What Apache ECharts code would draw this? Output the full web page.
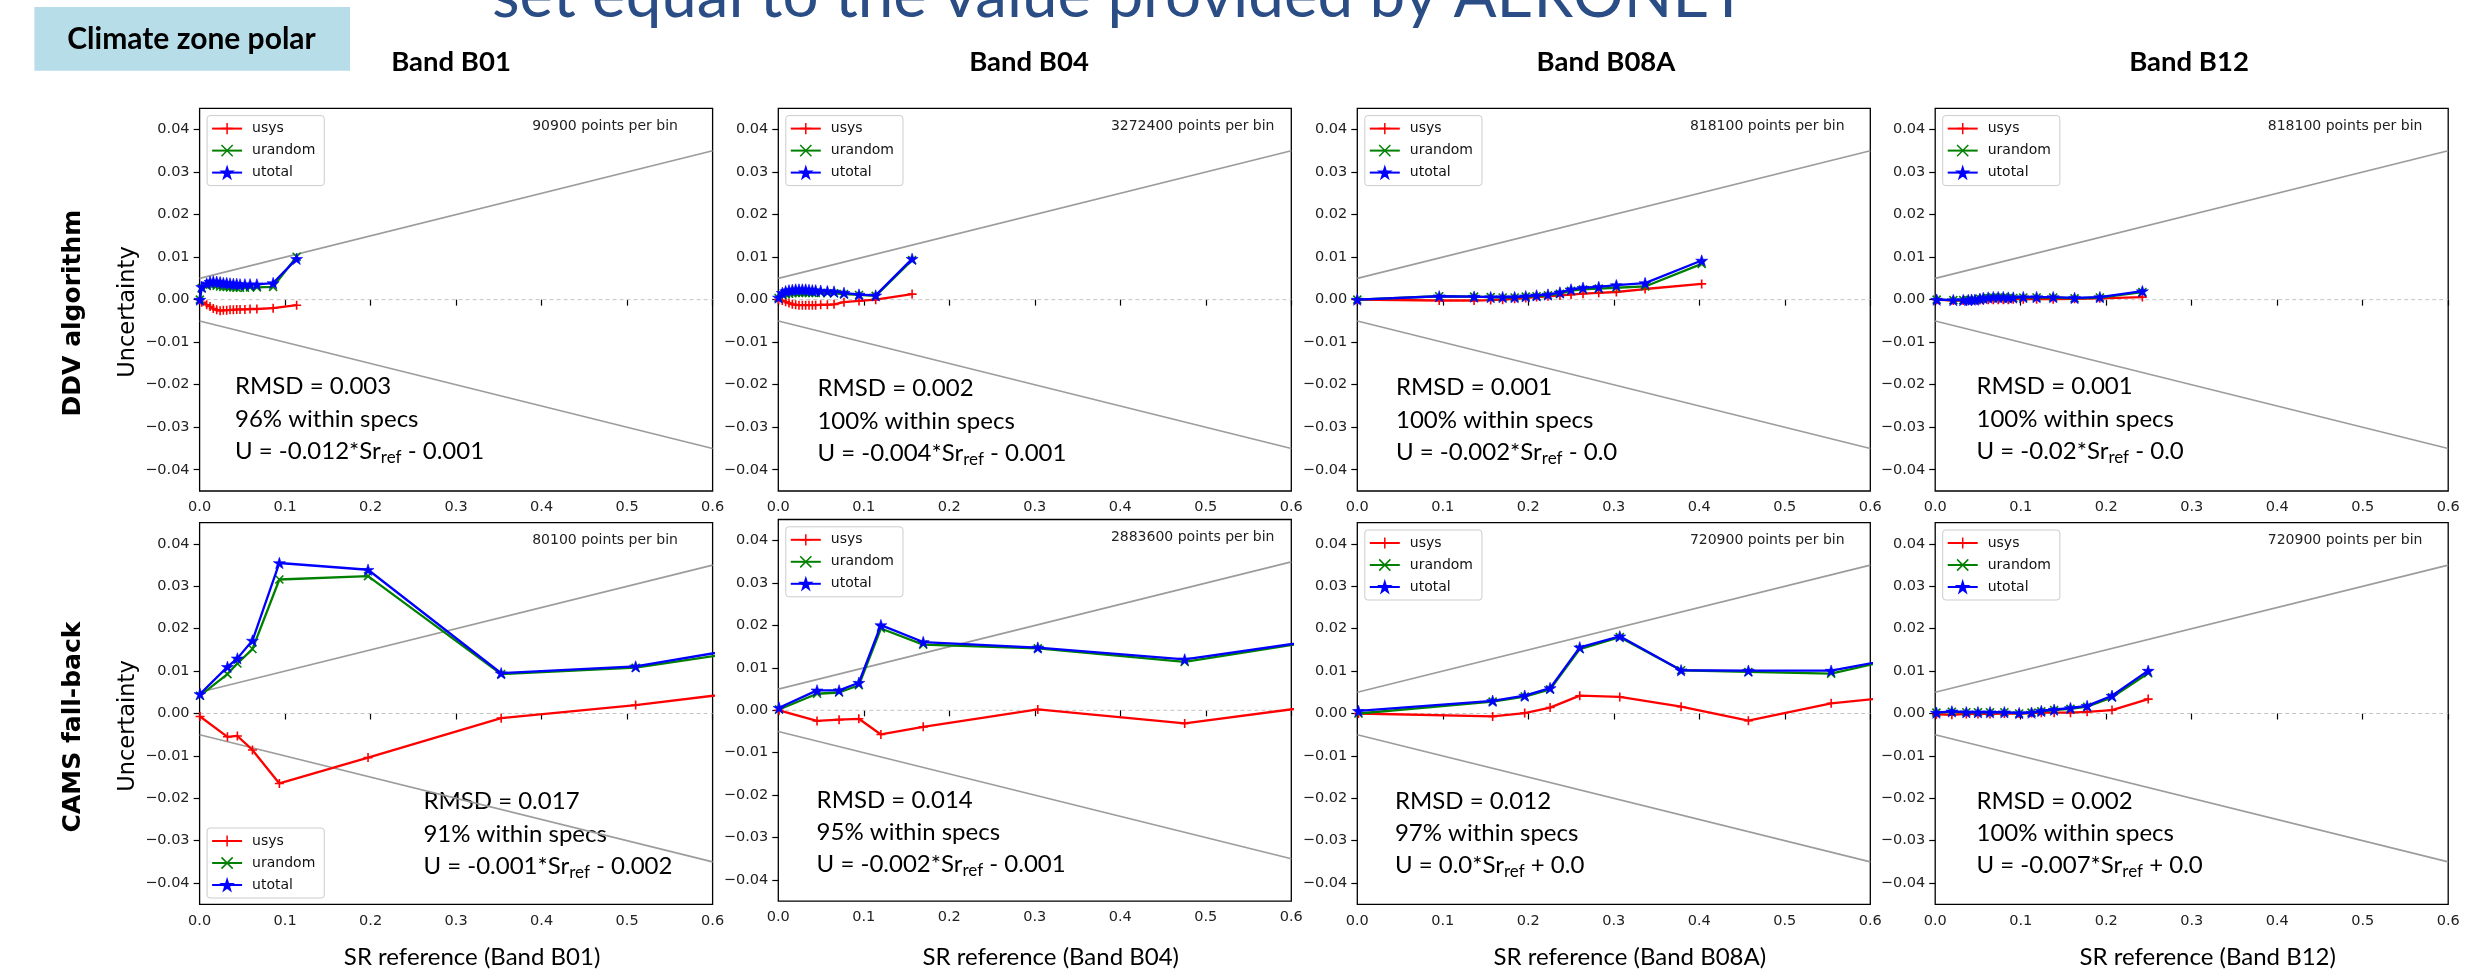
<!DOCTYPE html>
<html><head><meta charset="utf-8">
<script src="https://cdn.jsdelivr.net/npm/echarts@6/dist/echarts.min.js"></script>
<style>html,body{margin:0;padding:0;background:#fff}#c{width:2490px;height:970px}</style>
</head><body><div id="c"></div>
<script>
// ================= DATA =================
const bands = ['B01', 'B04', 'B08A', 'B12'];
const rowNames = ['DDV algorithm', 'CAMS fall-back'];
const seriesNames = ['usys', 'urandom', 'utotal'];
const xTicks = [0, 0.1, 0.2, 0.3, 0.4, 0.5, 0.6];
const yTicks = [-0.04, -0.03, -0.02, -0.01, 0, 0.01, 0.02, 0.03, 0.04];
const specX = [0, 0.6];
const specUpper = [0.005, 0.035];
const specLower = [-0.005, -0.035];
const zeroLine = [0, 0];

// DDV algorithm row
const ddvB01X = [0.0003, 0.0025, 0.0083, 0.0122, 0.0160, 0.0200, 0.0240, 0.0278, 0.0317, 0.0356, 0.0395, 0.0434, 0.0473, 0.0530, 0.0590, 0.0670, 0.0860, 0.1135];
const ddvB01Usys = [0.0000, -0.0006, -0.0012, -0.0016, -0.0021, -0.0024, -0.0026, -0.0025, -0.0025, -0.0024, -0.0024, -0.0023, -0.0023, -0.0023, -0.0022, -0.0022, -0.0020, -0.0013];
const ddvB01Urandom = [0.0000, 0.0027, 0.0032, 0.0035, 0.0035, 0.0033, 0.0031, 0.0030, 0.0030, 0.0029, 0.0029, 0.0028, 0.0028, 0.0028, 0.0029, 0.0029, 0.0030, 0.0101];
const ddvB01Utotal = [0.0000, 0.0030, 0.0038, 0.0042, 0.0043, 0.0042, 0.0041, 0.0039, 0.0039, 0.0038, 0.0037, 0.0037, 0.0036, 0.0036, 0.0036, 0.0036, 0.0039, 0.0096];

const ddvB04X = [0.0003, 0.0047, 0.0086, 0.0125, 0.0164, 0.0203, 0.0242, 0.0281, 0.0320, 0.0359, 0.0398, 0.0437, 0.0496, 0.0574, 0.0652, 0.0768, 0.0944, 0.1139, 0.1565];
const ddvB04Usys = [0.0000, -0.0002, -0.0005, -0.0008, -0.0011, -0.0012, -0.0013, -0.0013, -0.0013, -0.0013, -0.0013, -0.0013, -0.0012, -0.0012, -0.0011, -0.0006, -0.0003, 0.0000, 0.0013];
const ddvB04Urandom = [0.0004, 0.0011, 0.0013, 0.0014, 0.0015, 0.0016, 0.0016, 0.0016, 0.0016, 0.0016, 0.0016, 0.0016, 0.0016, 0.0015, 0.0015, 0.0013, 0.0011, 0.0009, 0.0093];
const ddvB04Utotal = [0.0005, 0.0016, 0.0020, 0.0022, 0.0023, 0.0024, 0.0024, 0.0024, 0.0024, 0.0023, 0.0022, 0.0022, 0.0021, 0.0020, 0.0019, 0.0016, 0.0012, 0.0010, 0.0096];

const ddvB08AX = [0.0000, 0.0958, 0.1366, 0.1560, 0.1700, 0.1840, 0.1970, 0.2097, 0.2230, 0.2370, 0.2500, 0.2640, 0.2824, 0.3030, 0.3366, 0.4028];
const ddvB08AUsys = [0.0000, -0.0002, -0.0002, -0.0001, 0.0000, 0.0002, 0.0004, 0.0006, 0.0008, 0.0010, 0.0012, 0.0014, 0.0016, 0.0018, 0.0025, 0.0037];
const ddvB08AUrandom = [0.0000, 0.0008, 0.0007, 0.0006, 0.0005, 0.0005, 0.0007, 0.0008, 0.0010, 0.0014, 0.0021, 0.0024, 0.0026, 0.0028, 0.0031, 0.0084];
const ddvB08AUtotal = [0.0000, 0.0008, 0.0007, 0.0006, 0.0006, 0.0006, 0.0008, 0.0010, 0.0012, 0.0017, 0.0024, 0.0028, 0.0030, 0.0034, 0.0039, 0.0092];

const ddvB12X = [0.0017, 0.0212, 0.0328, 0.0387, 0.0426, 0.0465, 0.0523, 0.0562, 0.0620, 0.0679, 0.0737, 0.0796, 0.0854, 0.0913, 0.1030, 0.1186, 0.1380, 0.1630, 0.1926, 0.2423];
const ddvB12Usys = [0.0000, -0.0002, -0.0002, -0.0002, -0.0002, -0.0001, -0.0001, -0.0001, 0.0000, 0.0000, 0.0000, 0.0000, 0.0000, 0.0001, 0.0001, 0.0001, 0.0001, 0.0002, 0.0003, 0.0006];
const ddvB12Urandom = [0.0000, -0.0001, -0.0001, -0.0001, 0.0000, 0.0000, 0.0002, 0.0003, 0.0004, 0.0005, 0.0005, 0.0005, 0.0004, 0.0004, 0.0005, 0.0005, 0.0005, 0.0003, 0.0005, 0.0018];
const ddvB12Utotal = [0.0000, -0.0001, -0.0001, -0.0001, 0.0000, 0.0000, 0.0002, 0.0004, 0.0005, 0.0006, 0.0006, 0.0006, 0.0005, 0.0005, 0.0006, 0.0006, 0.0006, 0.0004, 0.0006, 0.0020];

// CAMS fall-back row
const camsB01X = [0.0005, 0.0326, 0.0442, 0.0618, 0.0933, 0.1970, 0.3527, 0.5100, 0.6800];
const camsB01Usys = [-0.0007, -0.0055, -0.0053, -0.0086, -0.0165, -0.0104, -0.0011, 0.0020, 0.0061];
const camsB01Urandom = [0.0042, 0.0093, 0.0118, 0.0152, 0.0316, 0.0324, 0.0093, 0.0108, 0.0159];
const camsB01Utotal = [0.0046, 0.0110, 0.0130, 0.0172, 0.0355, 0.0339, 0.0095, 0.0111, 0.0169];

const camsB04X = [0.0009, 0.0453, 0.0711, 0.0942, 0.1200, 0.1695, 0.3035, 0.4753, 0.7000];
const camsB04Usys = [0.0000, -0.0025, -0.0022, -0.0020, -0.0057, -0.0039, 0.0002, -0.0031, 0.0029];
const camsB04Urandom = [0.0002, 0.0039, 0.0042, 0.0059, 0.0193, 0.0155, 0.0146, 0.0114, 0.0186];
const camsB04Utotal = [0.0006, 0.0047, 0.0047, 0.0065, 0.0201, 0.0161, 0.0148, 0.0120, 0.0185];

const camsB08AX = [0.0014, 0.1583, 0.1958, 0.2255, 0.2602, 0.3070, 0.3787, 0.4574, 0.5542, 0.6500];
const camsB08AUsys = [0.0000, -0.0007, 0.0001, 0.0014, 0.0042, 0.0039, 0.0016, -0.0017, 0.0024, 0.0043];
const camsB08AUrandom = [0.0000, 0.0028, 0.0040, 0.0057, 0.0152, 0.0180, 0.0102, 0.0098, 0.0094, 0.0138];
const camsB08AUtotal = [0.0006, 0.0030, 0.0042, 0.0060, 0.0156, 0.0182, 0.0102, 0.0101, 0.0101, 0.0137];

const camsB12X = [0.0014, 0.0195, 0.0364, 0.0500, 0.0641, 0.0809, 0.0982, 0.1127, 0.1241, 0.1391, 0.1582, 0.1777, 0.2068, 0.2491];
const camsB12Usys = [-0.0002, -0.0003, -0.0001, -0.0001, -0.0001, 0.0000, 0.0000, 0.0001, 0.0002, 0.0002, 0.0002, 0.0004, 0.0008, 0.0034];
const camsB12Urandom = [0.0002, 0.0004, 0.0003, 0.0003, 0.0003, 0.0003, 0.0000, 0.0002, 0.0005, 0.0008, 0.0011, 0.0016, 0.0038, 0.0095];
const camsB12Utotal = [0.0002, 0.0005, 0.0003, 0.0003, 0.0003, 0.0003, 0.0001, 0.0002, 0.0006, 0.0009, 0.0013, 0.0018, 0.0042, 0.0101];

// annotation texts
const ddvPoints = ['90900', '3272400', '818100', '818100'];
const camsPoints = ['80100', '2883600', '720900', '720900'];
const ddvRmsd = ['0.003', '0.002', '0.001', '0.001'];
const camsRmsd = ['0.017', '0.014', '0.012', '0.002'];
const ddvWithin = ['96', '100', '100', '100'];
const camsWithin = ['91', '95', '97', '100'];
const ddvEqA = ['-0.012', '-0.004', '-0.002', '-0.02'];
const ddvEqB = ['- 0.001', '- 0.001', '- 0.0', '- 0.0'];
const camsEqA = ['-0.001', '-0.002', '0.0', '-0.007'];
const camsEqB = ['- 0.002', '- 0.001', '+ 0.0', '+ 0.0'];
const slideTitle = 'set equal to the value provided by AERONET';
const zoneLabel = 'Climate zone polar';

// ================= LAYOUT =================
const panels = [
  [ddvB01X, ddvB01Usys, ddvB01Urandom, ddvB01Utotal],
  [ddvB04X, ddvB04Usys, ddvB04Urandom, ddvB04Utotal],
  [ddvB08AX, ddvB08AUsys, ddvB08AUrandom, ddvB08AUtotal],
  [ddvB12X, ddvB12Usys, ddvB12Urandom, ddvB12Utotal],
  [camsB01X, camsB01Usys, camsB01Urandom, camsB01Utotal],
  [camsB04X, camsB04Usys, camsB04Urandom, camsB04Utotal],
  [camsB08AX, camsB08AUsys, camsB08AUrandom, camsB08AUtotal],
  [camsB12X, camsB12Usys, camsB12Urandom, camsB12Utotal]
];
const lefts = [199.6, 778.3, 1357.3, 1935.2];
const GW = 513;
const tops = [[108.3, 108.3, 108.3, 108.3], [522.7, 519.5, 522.7, 522.7]];
const heights = [382.7, 381.6];
const annoPos = [
  [[235, 386.7], [817.4, 388.3], [1396, 387.7], [1976.5, 386.7]],
  [[423.4, 801.7], [816.6, 800.0], [1394.9, 801.0], [1976.5, 801.0]]
];
const headerX = [451, 1029, 1606, 2189];
const colors = ['#ff0000', '#008000', '#0000ff'];

function starPath(R) {
  const r = R * 0.381966; let d = '';
  for (let i = 0; i < 10; i++) {
    const a = -Math.PI / 2 + i * Math.PI / 5; const rr = i % 2 ? r : R;
    d += (i ? 'L' : 'M') + (R + rr * Math.cos(a)).toFixed(2) + ',' + (R + rr * Math.sin(a)).toFixed(2);
  }
  return 'path://' + d + 'Z';
}
const symbols = ['path://M0,4.5L9,4.5M4.5,0L4.5,9', 'path://M0,0L8,8M8,0L0,8', starPath(6)];
const symSizes = [9, 8, 12];
const zip = (xs, ys) => xs.map((x, i) => [x, ys[i]]);
const fmtY = v => { const a = Math.abs(v) < 1e-9 ? 0 : v; return (a < 0 ? '\u2212' : '') + Math.abs(a).toFixed(2); };

const grids = [], xAxes = [], yAxes = [], series = [], legends = [], graphics = [];
const TICKFONT = 'DejaVu Sans';

panels.forEach((p, k) => {
  const row = Math.floor(k / 4), col = k % 4;
  const top = tops[row][col], h = heights[row], left = lefts[col];
  grids.push({ left: left, top: top, width: GW, height: h, show: true, borderColor: '#000', borderWidth: 1.3, containLabel: false });
  xAxes.push({
    type: 'value', gridIndex: k, min: 0, max: 0.6,
    axisLine: { show: false },
    axisTick: { show: true, length: 6, lineStyle: { color: '#000', width: 1.2 }, customValues: xTicks },
    axisLabel: { customValues: xTicks, margin: 9, fontFamily: TICKFONT, fontSize: 14.5, color: '#222', formatter: v => v.toFixed(1) },
    splitLine: { show: false }
  });
  yAxes.push({
    type: 'value', gridIndex: k, min: -0.045, max: 0.045,
    axisLine: { show: false },
    axisTick: { show: true, length: 6, lineStyle: { color: '#000', width: 1.2 }, customValues: yTicks },
    axisLabel: { customValues: yTicks, margin: 10, fontFamily: TICKFONT, fontSize: 14.5, color: '#222', formatter: fmtY },
    splitLine: { show: false }
  });
  // spec envelope + zero line
  series.push({ type: 'line', xAxisIndex: k, yAxisIndex: k, data: zip(specX, specUpper), symbol: 'none', silent: true, lineStyle: { color: '#9c9c9c', width: 1.6 }, z: 1 });
  series.push({ type: 'line', xAxisIndex: k, yAxisIndex: k, data: zip(specX, specLower), symbol: 'none', silent: true, lineStyle: { color: '#9c9c9c', width: 1.6 }, z: 1 });
  series.push({ type: 'line', xAxisIndex: k, yAxisIndex: k, data: zip(specX, zeroLine), symbol: 'none', silent: true, lineStyle: { color: '#c4c4c4', width: 1, type: [4, 3] }, z: 1 });
  for (let s = 0; s < 3; s++) {
    series.push({
      name: seriesNames[s], type: 'line', xAxisIndex: k, yAxisIndex: k,
      data: zip(p[0], p[s + 1]), symbol: symbols[s], symbolSize: symSizes[s], symbolKeepAspect: true,
      showAllSymbol: true, clip: true,
      lineStyle: { color: colors[s], width: 2.3 },
      itemStyle: { color: colors[s], borderColor: colors[s], borderWidth: s === 2 ? 0.6 : 1.6 },
      z: 2 + s
    });
  }
  const legTop = (row === 1 && col === 0) ? 828 : top + 7.3;
  legends.push({
    left: left + 7.5, top: legTop, orient: 'vertical', data: seriesNames,
    itemWidth: 30, itemHeight: 14, itemGap: 8, selectedMode: false,
    backgroundColor: 'rgba(255,255,255,0.85)', borderColor: '#cccccc', borderWidth: 1, borderRadius: 3,
    padding: [6, 9, 6, 4],
    itemStyle: { borderWidth: 1.5 },
    textStyle: { fontFamily: TICKFONT, fontSize: 14, color: '#111', padding: [0, 0, 0, 5] }
  });
  // points per bin
  graphics.push({ type: 'text', x: left + 0.6483 * GW, y: top + 18, silent: true,
    style: { text: (row ? camsPoints : ddvPoints)[col] + ' points per bin', fontFamily: TICKFONT, fontSize: 14, fill: '#222', align: 'left', verticalAlign: 'middle' } });
  // statistics annotation
  const [ax, ay] = annoPos[row][col];
  const rm = (row ? camsRmsd : ddvRmsd)[col], wi = (row ? camsWithin : ddvWithin)[col];
  const ea = (row ? camsEqA : ddvEqA)[col], eb = (row ? camsEqB : ddvEqB)[col];
  const af = { fontFamily: 'Lato', fontSize: 24, fill: '#000', align: 'left', verticalAlign: 'middle' };
  graphics.push({ type: 'text', x: ax, y: ay, silent: true, style: Object.assign({ text: 'RMSD = ' + rm }, af) });
  graphics.push({ type: 'text', x: ax, y: ay + 32.5, silent: true, style: Object.assign({ text: wi + '% within specs' }, af) });
  graphics.push({ type: 'text', x: ax, y: ay + 64.5, silent: true, style: {
    text: '{a|U = ' + ea + '*Sr}{s|ref}{a| ' + eb + '}', align: 'left', verticalAlign: 'middle',
    rich: {
      a: { fontFamily: 'Lato', fontSize: 24, lineHeight: 30, fill: '#000' },
      s: { fontFamily: 'Lato', fontSize: 17, lineHeight: 16, verticalAlign: 'bottom', fill: '#000' }
    } } });
  if (row === 1) {
    graphics.push({ type: 'text', x: left + GW / 2 + 16, y: 957, silent: true,
      style: { text: 'SR reference (Band ' + bands[col] + ')', fontFamily: 'Lato', fontSize: 24, fill: '#000', align: 'center', verticalAlign: 'middle' } });
  }
  if (col === 0) {
    graphics.push({ type: 'text', x: 128.5, y: row ? 726 : 312, rotation: Math.PI / 2, silent: true,
      style: { text: 'Uncertainty', fontFamily: TICKFONT, fontSize: 22.5, fill: '#000', align: 'center', verticalAlign: 'middle' } });
    graphics.push({ type: 'text', x: 73, y: row ? 727 : 313, rotation: Math.PI / 2, silent: true,
      style: { text: rowNames[row], fontFamily: TICKFONT, fontWeight: 'bold', fontSize: 25, fill: '#000', align: 'center', verticalAlign: 'middle' } });
  }
});

// column headers
bands.forEach((b, i) => {
  graphics.push({ type: 'text', x: headerX[i], y: 62.5, silent: true,
    style: { text: 'Band ' + b, fontFamily: 'Lato', fontWeight: 'bold', fontSize: 27.5, fill: '#000', align: 'center', verticalAlign: 'middle' } });
});
// climate zone box
graphics.push({ type: 'rect', silent: true, shape: { x: 34.4, y: 7, width: 315.6, height: 63.7 }, style: { fill: '#b7dde8' } });
graphics.push({ type: 'text', x: 191.5, y: 39, silent: true,
  style: { text: zoneLabel, fontFamily: 'Lato', fontWeight: 'bold', fontSize: 30, fill: '#000', align: 'center', verticalAlign: 'middle' } });
// slide title (cut at top)
(function () {
  const cv = document.createElement('canvas').getContext('2d');
  cv.font = '64px Lato';
  const w = cv.measureText(slideTitle).width;
  const fs = 64 * 1255 / w;
  graphics.push({ type: 'text', x: 492, y: 16.5 - 0.31 * fs, silent: true,
    style: { text: slideTitle, fontFamily: 'Lato', fontSize: fs, fill: '#2a4d85', align: 'left', verticalAlign: 'middle' } });
})();

const chart = echarts.init(document.getElementById('c'), null, { renderer: 'canvas' });
chart.setOption({
  animation: false,
  backgroundColor: '#ffffff',
  grid: grids, xAxis: xAxes, yAxis: yAxes, series: series, legend: legends, graphic: graphics
});
</script></body></html>
